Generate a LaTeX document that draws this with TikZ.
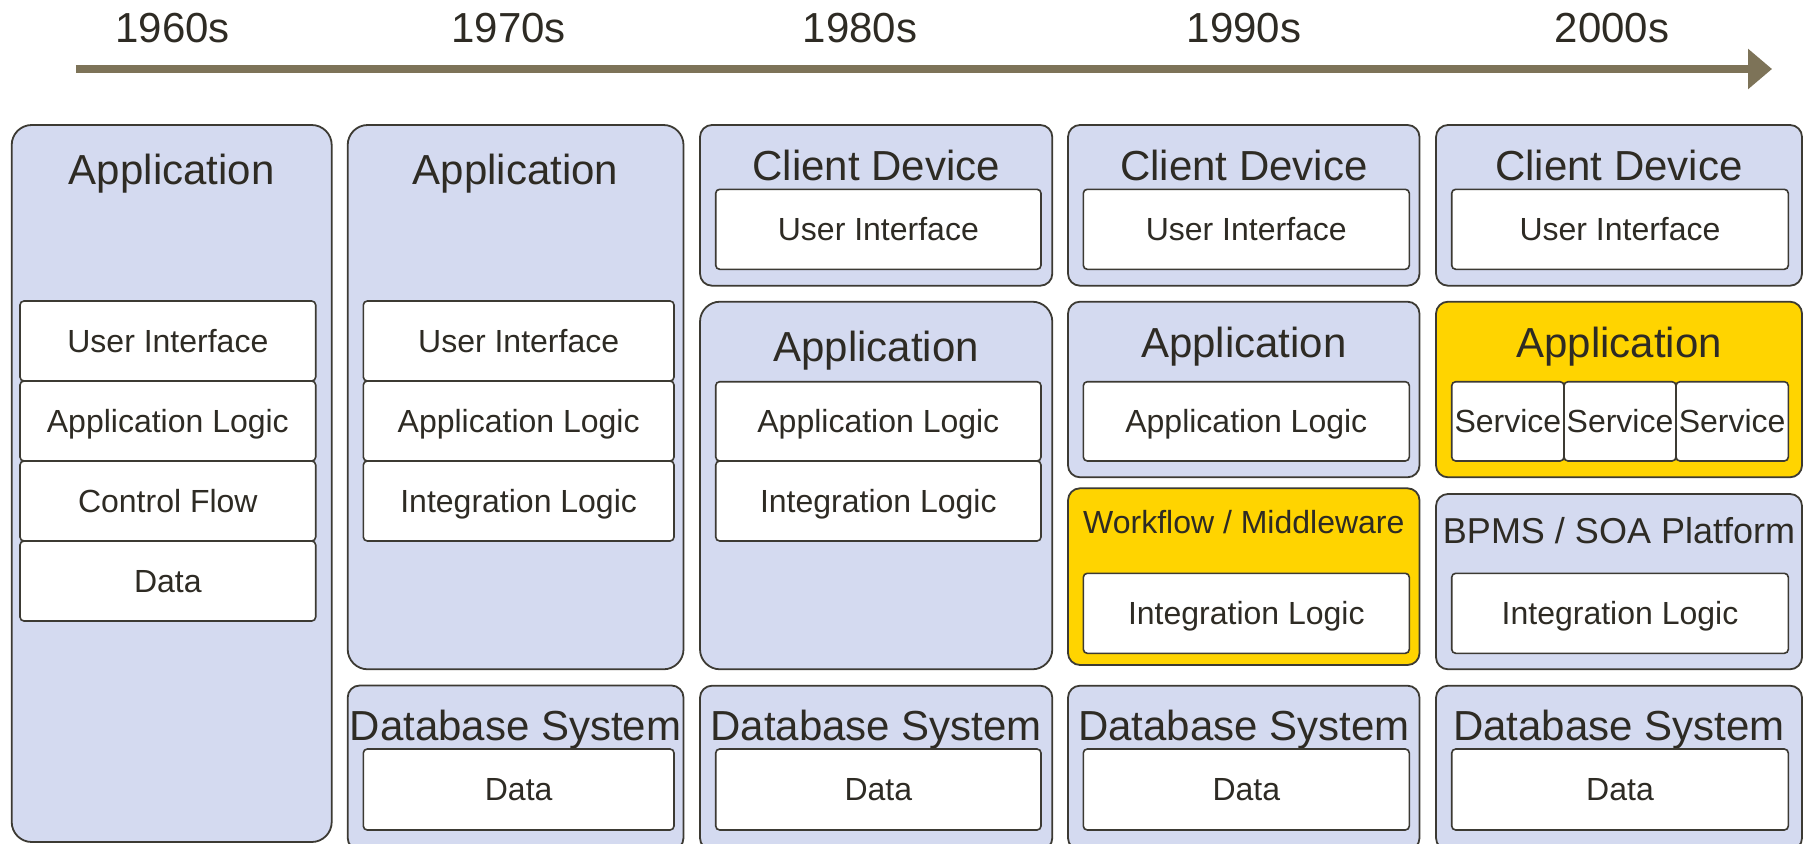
\documentclass[tikz,border=0pt]{standalone}
\usepackage{fontspec}
\setmainfont{Liberation Sans}
\usetikzlibrary{arrows.meta,fit}

\definecolor{ink}{HTML}{2E2B24}
\definecolor{edge}{HTML}{3C3A33}
\definecolor{lav}{HTML}{D4DAF0}
\definecolor{gold}{HTML}{FFD400}
\definecolor{timeline}{HTML}{7D7358}

\tikzset{
  layer/.style={draw=edge, line width=1.8pt, fill=lav, rounded corners=12pt, inner sep=0pt},
  bigcorner/.style={rounded corners=20pt},
  hot/.style={fill=gold},
  cell/.style={draw=edge, line width=1.6pt, fill=white, rounded corners=4pt, inner sep=0pt},
  celltext/.style={font=\fontsize{32}{36}\selectfont, text=ink, inner sep=0pt,
    text height=22.9pt, text depth=0pt},
  head/.style={font=\fontsize{42}{48}\selectfont, text=ink, anchor=base, inner sep=0pt},
  subhead/.style={font=\fontsize{32}{36}\selectfont, text=ink, anchor=base, inner sep=0pt},
  era/.style={font=\fontsize{42}{48}\selectfont, text=ink, anchor=base, inner sep=0pt},
}

% white box from corner to corner, with its text centred on the cap height
\newcommand\cellbox[4]{%
  \node[cell, fit={#2 #3}] (#1) {};
  \node[celltext] (#1-text) at (#1.center) {#4};}

\begin{document}
\begin{tikzpicture}[x=1pt,y=-1pt]
\useasboundingbox (0,0) rectangle (1803,843);
\clip (0,0) rectangle (1803,843);

% time axis
\coordinate (tstart) at (75.8,69);
\coordinate (tend) at (1772,69);
\draw[timeline, line width=8.3pt, -{Triangle[length=24pt,width=39pt]}] (tstart) -- (tend);
\node[era] (y60) at (172.8,42.7) {1960s};
\node[era] (y70) at (508.6,42.7) {1970s};
\node[era] (y80) at (860,42.7) {1980s};
\node[era] (y90) at (1244,42.7) {1990s};
\node[era] (y00) at (1612,42.7) {2000s};

% 1960s: monolithic application
\node[layer, bigcorner, fit={(11.7,125) (331.7,842)}] (appA) {};
\node[head] (appAt) at (171.7,184) {Application};
\cellbox{uiA}{(20,301)}{(315.7,381)}{User Interface}
\cellbox{alA}{(20,381)}{(315.7,461)}{Application Logic}
\cellbox{cfA}{(20,461)}{(315.7,541)}{Control Flow}
\cellbox{daA}{(20,541)}{(315.7,621)}{Data}

% 1970s: application plus database system
\node[layer, bigcorner, fit={(347.7,125) (683.5,669.3)}] (appB) {};
\node[head] (appBt) at (515.6,184) {Application};
\cellbox{uiB}{(363.3,301)}{(674,381)}{User Interface}
\cellbox{alB}{(363.3,381)}{(674,461)}{Application Logic}
\cellbox{ilB}{(363.3,461)}{(674,541)}{Integration Logic}
\node[layer, fit={(347.7,685.5) (683.5,850)}] (dbB) {};
\node[head] (dbBt) at (515.6,740) {Database System};
\cellbox{daB}{(363.3,749)}{(674,830)}{Data}

% 1980s: client device split off
\node[layer, fit={(700,125) (1052.3,285.7)}] (cdC) {};
\node[head] (cdCt) at (876.1,180.7) {Client Device};
\cellbox{uiC}{(715.7,189.3)}{(1041,269.3)}{User Interface}
\node[layer, bigcorner, fit={(700,301.7) (1052.3,669.3)}] (appC) {};
\node[head] (appCt) at (876.1,361) {Application};
\cellbox{alC}{(715.7,381.7)}{(1041,461)}{Application Logic}
\cellbox{ilC}{(715.7,461)}{(1041,541)}{Integration Logic}
\node[layer, fit={(700,685.7) (1052.3,850)}] (dbC) {};
\node[head] (dbCt) at (876.1,740) {Database System};
\cellbox{daC}{(715.7,749)}{(1041,830)}{Data}

% 1990s: workflow / middleware layer
\node[layer, fit={(1068,125) (1419.5,285.7)}] (cdD) {};
\node[head] (cdDt) at (1243.8,180.7) {Client Device};
\cellbox{uiD}{(1083.3,189.3)}{(1409.3,269.3)}{User Interface}
\node[layer, fit={(1068,301.7) (1419.5,477.3)}] (appD) {};
\node[head] (appDt) at (1243.8,357.3) {Application};
\cellbox{alD}{(1083.3,381.7)}{(1409.3,461)}{Application Logic}
\node[layer, hot, fit={(1068,488.3) (1419.5,665)}] (wfD) {};
\node[subhead] (wfDt) at (1243.8,533) {Workflow / Middleware};
\cellbox{ilD}{(1083.3,573.3)}{(1409.3,653.3)}{Integration Logic}
\node[layer, fit={(1068,685.7) (1419.5,850)}] (dbD) {};
\node[head] (dbDt) at (1243.8,740) {Database System};
\cellbox{daD}{(1083.3,749)}{(1409.3,830)}{Data}

% 2000s: services on a BPMS / SOA platform
\node[layer, fit={(1436,125) (1802,285.7)}] (cdE) {};
\node[head] (cdEt) at (1619,180.7) {Client Device};
\cellbox{uiE}{(1451.7,189.3)}{(1788.3,269.3)}{User Interface}
\node[layer, hot, fit={(1436,301.7) (1802,477.3)}] (appE) {};
\node[head] (appEt) at (1619,357.3) {Application};
\cellbox{svE1}{(1451.7,381.7)}{(1564,461)}{Service}
\cellbox{svE2}{(1564,381.7)}{(1676,461)}{Service}
\cellbox{svE3}{(1676,381.7)}{(1788.3,461)}{Service}
\node[layer, fit={(1436,494) (1802,669.3)}] (bpE) {};
\node[head, font=\fontsize{36}{42}\selectfont] (bpEt) at (1619,543) {BPMS / SOA Platform};
\cellbox{ilE}{(1451.7,573.3)}{(1788.3,653.3)}{Integration Logic}
\node[layer, fit={(1436,685.7) (1802,850)}] (dbE) {};
\node[head] (dbEt) at (1619,740) {Database System};
\cellbox{daE}{(1451.7,749)}{(1788.3,830)}{Data}
\end{tikzpicture}
\end{document}
